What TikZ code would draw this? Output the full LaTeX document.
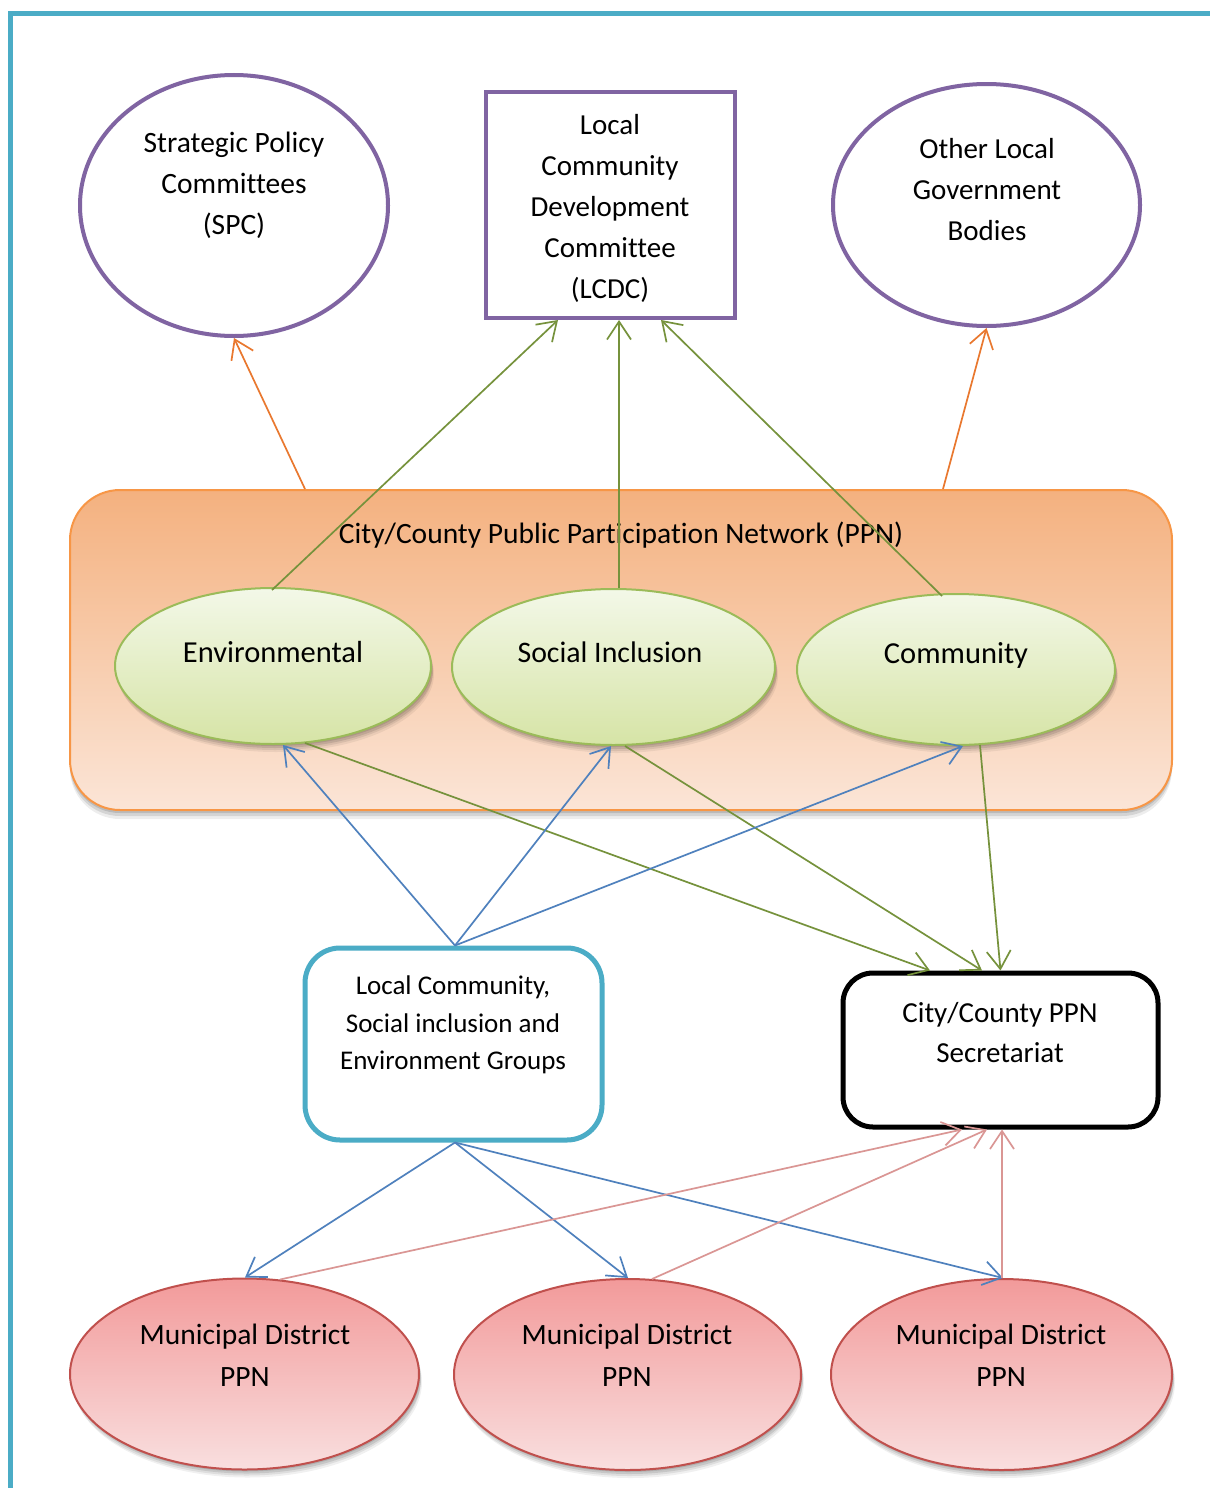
\documentclass[tikz,border=0pt]{standalone}
\usepackage{fontspec}
\setmainfont{Carlito}[Ligatures=NoCommon]
\usetikzlibrary{shapes.geometric,arrows.meta,shadows}
\definecolor{frameteal}{HTML}{4BACC6}
\definecolor{purp}{HTML}{8064A2}
\definecolor{orarrow}{HTML}{E9782F}
\definecolor{grarrow}{HTML}{76923C}
\definecolor{blarrow}{HTML}{4F81BD}
\definecolor{pkarrow}{HTML}{DA9694}
\definecolor{ppnborder}{HTML}{F79646}
\definecolor{ppntop}{HTML}{F4B17F}
\definecolor{ppnbot}{HTML}{FBE5D7}
\definecolor{grborder}{HTML}{9BBB59}
\definecolor{grtop}{HTML}{F3F8E8}
\definecolor{grbot}{HTML}{D6E4A6}
\definecolor{pkborder}{HTML}{C0504D}
\definecolor{pktop}{HTML}{F29A9A}
\definecolor{pkbot}{HTML}{F9DFDF}
\begin{document}
\begin{tikzpicture}[x=1pt,y=-1pt,
  txt/.style={align=center,inner sep=0pt,text=black,font=\fontsize{29}{41}\selectfont},
  softshadow/.style={
    drop shadow={shadow xshift=1pt,shadow yshift=-2pt,opacity=0.10,fill=black},
    drop shadow={shadow xshift=2pt,shadow yshift=-4pt,opacity=0.10,fill=black},
    drop shadow={shadow xshift=2pt,shadow yshift=-6pt,opacity=0.08,fill=black},
    drop shadow={shadow xshift=3pt,shadow yshift=-8pt,opacity=0.06,fill=black}},
  topell/.style={ellipse,draw=purp,line width=4pt,fill=white,inner sep=0pt},
  grell/.style={ellipse,draw=grborder,line width=2pt,top color=grtop,bottom color=grbot,inner sep=0pt,
    minimum height=156pt,softshadow},
  pkell/.style={ellipse,draw=pkborder,line width=2pt,top color=pktop,bottom color=pkbot,inner sep=0pt,
    minimum height=191pt,softshadow},
  arr/.style={line width=1.7pt,-{Straight Barb[length=18pt,width=24pt,line width=1.7pt]}},
  oarr/.style={arr,draw=orarrow},
  garr/.style={arr,draw=grarrow},
  barr/.style={arr,draw=blarrow},
  parr/.style={arr,draw=pkarrow},
]
\useasboundingbox[fill=white] (0,0) rectangle (1210,1488);
% frame
\draw[frameteal,line width=5.5pt] (10.5,1488) -- (10.5,13.5) -- (1210,13.5);

% top shapes
\node[topell,minimum width=308pt,minimum height=261pt] (spc) at (234,205.5) {};
\node[txt,font=\fontsize{29.5}{41}\selectfont] (spct) at (234,185) {Strategic Policy\\Committees\\(SPC)};
\node[draw=purp,line width=4pt,fill=white,minimum width=249pt,minimum height=226pt,inner sep=0pt] (lcdc) at (610.5,205) {};
\node[txt] (lcdct) at (610,208) {Local\\Community\\Development\\Committee\\(LCDC)};
\node[topell,minimum width=307pt,minimum height=242pt] (oth) at (986.5,205) {};
\node[txt] (otht) at (987,190) {Other Local\\Government\\Bodies};

% PPN box
\node[draw=ppnborder,line width=2pt,rounded corners=50pt,top color=ppntop,bottom color=ppnbot,
  minimum width=1102pt,minimum height=320pt,inner sep=0pt,
  drop shadow={shadow xshift=0pt,shadow yshift=-3pt,opacity=0.12,fill=black},
  drop shadow={shadow xshift=0pt,shadow yshift=-6pt,opacity=0.10,fill=black},
  drop shadow={shadow xshift=0pt,shadow yshift=-9pt,opacity=0.07,fill=black}] (ppn) at (621,650) {};
\node[txt,font=\fontsize{29.5}{41}\selectfont] (ppnt) at (621,535) {City/County Public Participation Network (PPN)};

\node[grell,minimum width=316pt] (env) at (273,666) {};
\node[txt,font=\fontsize{30.5}{41}\selectfont] (envt) at (273,652) {Environmental};
\node[grell,minimum width=323pt] (soc) at (613.5,667) {};
\node[txt,font=\fontsize{29.8}{41}\selectfont] (soct) at (610,652) {Social Inclusion};
\node[grell,minimum width=318pt,minimum height=151pt] (com) at (956,669.5) {};
\node[txt,font=\fontsize{30.5}{41}\selectfont] (comt) at (956,655) {Community};

% groups and secretariat
\node[draw=frameteal,line width=5pt,rounded corners=35pt,fill=white,minimum width=297pt,minimum height=192pt,inner sep=0pt] (grp) at (453.5,1044) {};
\node[txt,font=\fontsize{27}{37.5}\selectfont] (grpt) at (453,1025) {Local Community,\\Social inclusion and\\Environment Groups};
\node[draw=black,line width=5pt,rounded corners=30pt,fill=white,minimum width=315pt,minimum height=154pt,inner sep=0pt] (sec) at (1000.5,1050) {};
\node[txt,font=\fontsize{29}{40}\selectfont] (sect) at (1000,1033) {City/County PPN\\Secretariat};

% municipal districts
\node[pkell,minimum width=349pt] (mun1) at (244.5,1374) {};
\node[txt,font=\fontsize{29.5}{42}\selectfont] (mun1t) at (245,1355) {Municipal District\\PPN};
\node[pkell,minimum width=347pt] (mun2) at (627.5,1374.5) {};
\node[txt,font=\fontsize{29.5}{42}\selectfont] (mun2t) at (627,1355) {Municipal District\\PPN};
\node[pkell,minimum width=341pt] (mun3) at (1001.5,1374.5) {};
\node[txt,font=\fontsize{29.5}{42}\selectfont] (mun3t) at (1001,1355) {Municipal District\\PPN};

% orange arrows
\draw[oarr] ([xshift=-316pt]ppn.north) -- (spc.south);
\draw[oarr] ([xshift=322pt]ppn.north) -- (oth.south);
% green up arrows
\draw[garr] ([xshift=-1pt,yshift=-3pt]env.north) -- ([xshift=-52.5pt]lcdc.south);
\draw[garr] ([xshift=5.5pt]soc.north) -- ([xshift=8.5pt]lcdc.south);
\draw[garr] ([xshift=-14pt,yshift=-3pt]com.north) -- ([xshift=50.5pt]lcdc.south);
% green down arrows
\draw[garr] ([xshift=32pt,yshift=2pt]env.south) -- ([xshift=-70.5pt]sec.north);
\draw[garr] ([xshift=11.5pt]soc.south) -- ([xshift=-18.5pt]sec.north);
\draw[garr] ([xshift=24pt,yshift=1pt]com.south) -- ([xshift=0pt]sec.north);
% blue up arrows
\draw[barr] ([xshift=1.5pt]grp.north) -- ([xshift=10pt]env.south);
\draw[barr] ([xshift=1.5pt]grp.north) -- ([xshift=-2.5pt]soc.south);
\draw[barr] ([xshift=1.5pt]grp.north) -- ([xshift=7pt]com.south);
% blue down arrows
\draw[barr] ([xshift=1.5pt]grp.south) -- ([xshift=0.5pt]mun1.north);
\draw[barr] ([xshift=1.5pt]grp.south) -- ([xshift=0.5pt]mun2.north);
\draw[barr] ([xshift=1.5pt]grp.south) -- ([xshift=1.5pt]mun3.north);
% pink up arrows
\draw[parr] ([xshift=35.5pt,yshift=-2pt]mun1.north) -- ([xshift=-38.5pt]sec.south);
\draw[parr] ([xshift=24.5pt,yshift=-1pt]mun2.north) -- ([xshift=-13.5pt]sec.south);
\draw[parr] ([xshift=0.5pt]mun3.north) -- ([xshift=1.5pt]sec.south);
\end{tikzpicture}
\end{document}
